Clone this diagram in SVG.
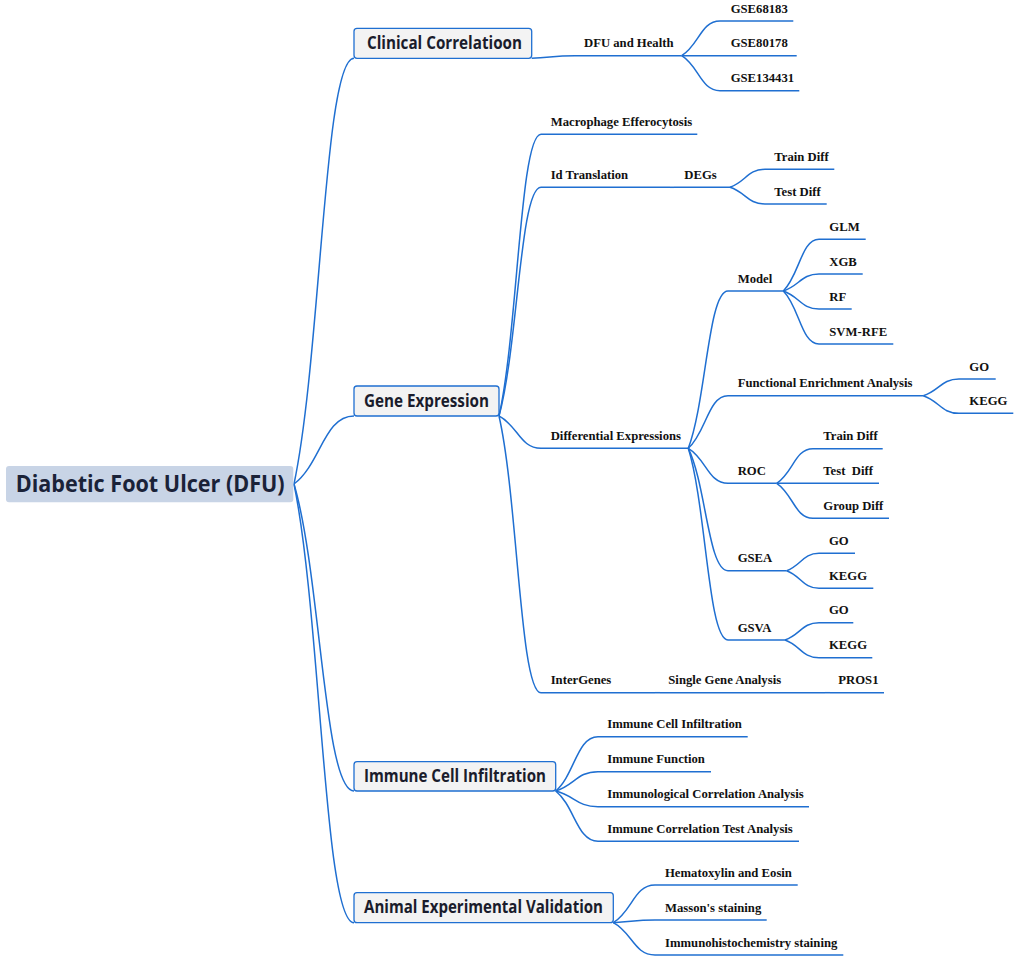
<svg xmlns="http://www.w3.org/2000/svg" width="1020" height="962" viewBox="0 0 1020 962">
<style>
.c{fill:none;stroke:#1f6fd1;stroke-width:1.5}
.u{stroke:#1f6fd1;stroke-width:1.5}
.t{font-family:"Liberation Serif","Times New Roman",serif;font-weight:bold;font-size:12.7px;fill:#111}
.b{fill:#f3f3f3;stroke:#1f6fd1;stroke-width:1.3}
.bt{font-family:"Open Sans","Noto Sans",sans-serif;font-weight:700;font-size:17px;fill:#1a1c2c}
.rt{font-family:"Open Sans","Noto Sans",sans-serif;font-weight:700;font-size:22.5px;fill:#1a2238}
</style>
<rect width="1020" height="962" fill="#ffffff"/>
<g id="connectors">
<path class="c" d="M294 484C321 356.3 324 58.3 354 58.3"/>
<path class="c" d="M294 484C321 463.6 324 416 354 416"/>
<path class="c" d="M294 484C321 576.1 324 791 354 791"/>
<path class="c" d="M294 484C321 615.6 324 922.7 354 922.7"/>
<path class="c" d="M531.7 58.3C551.2 57.5 553.3 55.7 575 55.7"/>
<path class="c" d="M681.7 55.7C698.9 45.3 700.9 21 720 21"/>
<path class="c" d="M681.7 55.7H720"/>
<path class="c" d="M681.7 55.7C698.9 66.2 700.9 90.7 720 90.7"/>
<path class="c" d="M499 416C517.9 331.5 520 134.3 541 134.3"/>
<path class="c" d="M499 416C517.9 347.4 520 187.3 541 187.3"/>
<path class="c" d="M499 416C517.9 425.7 520 448.3 541 448.3"/>
<path class="c" d="M499 416C517.9 499 520 692.7 541 692.7"/>
<path class="c" d="M670 187.3H674"/>
<path class="c" d="M730 187.3C745.8 181.9 747.5 169.3 765 169.3"/>
<path class="c" d="M730 187.3C745.8 192.3 747.5 204 765 204"/>
<path class="c" d="M688.3 448.3C706.2 401.1 708.2 291 728 291"/>
<path class="c" d="M688.3 448.3C706.2 432.5 708.2 395.7 728 395.7"/>
<path class="c" d="M688.3 448.3C706.2 458.8 708.2 483.3 728 483.3"/>
<path class="c" d="M688.3 448.3C706.2 485 708.2 570.7 728 570.7"/>
<path class="c" d="M688.3 448.3C706.2 505.8 708.2 640 728 640"/>
<path class="c" d="M783.3 291C799.4 275.5 801.2 239.3 819 239.3"/>
<path class="c" d="M783.3 291C799.4 285.9 801.2 274 819 274"/>
<path class="c" d="M783.3 291C799.4 296.4 801.2 309 819 309"/>
<path class="c" d="M783.3 291C799.4 306.9 801.2 344 819 344"/>
<path class="c" d="M923.3 395.7C939.4 390.7 941.2 379 959 379"/>
<path class="c" d="M923.3 395.7C939.4 401 941.2 413.3 959 413.3"/>
<path class="c" d="M776.7 483.3C793 472.9 794.9 448.7 813 448.7"/>
<path class="c" d="M776.7 483.3H813"/>
<path class="c" d="M776.7 483.3C793 493.8 794.9 518.3 813 518.3"/>
<path class="c" d="M786.7 570.7C801.2 565.5 802.9 553.3 819 553.3"/>
<path class="c" d="M786.7 570.7C801.2 576 802.9 588.3 819 588.3"/>
<path class="c" d="M785 640C800.3 634.8 802 622.7 819 622.7"/>
<path class="c" d="M785 640C800.3 645.3 802 657.7 819 657.7"/>
<path class="c" d="M655 692.7H660"/>
<path class="c" d="M825 692.7H830"/>
<path class="c" d="M555.7 791C574.7 774.7 576.9 736.7 598 736.7"/>
<path class="c" d="M555.7 791C574.7 785.2 576.9 771.7 598 771.7"/>
<path class="c" d="M555.7 791C574.7 795.7 576.9 806.7 598 806.7"/>
<path class="c" d="M555.7 791C574.7 806.1 576.9 841.3 598 841.3"/>
<path class="c" d="M613.3 922.7C632.1 911.4 634.2 885 655 885"/>
<path class="c" d="M613.3 922.7C632.1 921.9 634.2 920 655 920"/>
<path class="c" d="M613.3 922.7C632.1 932.4 634.2 955 655 955"/>
</g>
<g id="root"><rect x="6" y="466" width="287.3" height="36.3" rx="3" fill="#c8d4e6"/><text class="rt" x="15.7" y="491.7" textLength="269" lengthAdjust="spacingAndGlyphs">Diabetic Foot Ulcer (DFU)</text></g>
<g id="clinical"><rect class="b" x="354" y="28.3" width="177.7" height="30" rx="3"/><text class="bt" x="367" y="49.3" textLength="155" lengthAdjust="spacingAndGlyphs">Clinical Correlatioon</text></g>
<g id="gene"><rect class="b" x="354" y="386" width="145" height="30" rx="3"/><text class="bt" x="364" y="406.7" textLength="125" lengthAdjust="spacingAndGlyphs">Gene Expression</text></g>
<g id="immune"><rect class="b" x="354" y="761.7" width="201.7" height="29.3" rx="3"/><text class="bt" x="364" y="782" textLength="182" lengthAdjust="spacingAndGlyphs">Immune Cell Infiltration</text></g>
<g id="animal"><rect class="b" x="354" y="892.7" width="259.3" height="30" rx="3"/><text class="bt" x="364" y="913" textLength="239" lengthAdjust="spacingAndGlyphs">Animal Experimental Validation</text></g>
<g id="dfu-health"><line class="u" x1="575" y1="55.7" x2="681.7" y2="55.7"/><text class="t" x="584" y="47.2">DFU and Health</text></g>
<g id="gse68183"><line class="u" x1="720" y1="21" x2="793.3" y2="21"/><text class="t" x="730.7" y="12.5">GSE68183</text></g>
<g id="gse80178"><line class="u" x1="720" y1="55.7" x2="796.7" y2="55.7"/><text class="t" x="730.7" y="47.2">GSE80178</text></g>
<g id="gse134431"><line class="u" x1="720" y1="90.7" x2="799.3" y2="90.7"/><text class="t" x="730.7" y="82.2">GSE134431</text></g>
<g id="macrophage"><line class="u" x1="541" y1="134.3" x2="697.3" y2="134.3"/><text class="t" x="550.7" y="125.8">Macrophage Efferocytosis</text></g>
<g id="id-translation"><line class="u" x1="541" y1="187.3" x2="670" y2="187.3"/><text class="t" x="550.7" y="178.8">Id Translation</text></g>
<g id="degs"><line class="u" x1="674" y1="187.3" x2="730" y2="187.3"/><text class="t" x="684.3" y="178.8">DEGs</text></g>
<g id="train-diff-1"><line class="u" x1="765" y1="169.3" x2="834.3" y2="169.3"/><text class="t" x="774.3" y="160.8">Train Diff</text></g>
<g id="test-diff-1"><line class="u" x1="765" y1="204" x2="826.7" y2="204"/><text class="t" x="774.3" y="195.5">Test Diff</text></g>
<g id="differential"><line class="u" x1="541" y1="448.3" x2="688.3" y2="448.3"/><text class="t" x="550.7" y="439.8">Differential Expressions</text></g>
<g id="model"><line class="u" x1="728" y1="291" x2="783.3" y2="291"/><text class="t" x="737.7" y="282.5">Model</text></g>
<g id="glm"><line class="u" x1="819" y1="239.3" x2="865.7" y2="239.3"/><text class="t" x="829.3" y="230.8">GLM</text></g>
<g id="xgb"><line class="u" x1="819" y1="274" x2="862.7" y2="274"/><text class="t" x="829.3" y="265.5">XGB</text></g>
<g id="rf"><line class="u" x1="819" y1="309" x2="851.7" y2="309"/><text class="t" x="829.3" y="300.5">RF</text></g>
<g id="svm-rfe"><line class="u" x1="819" y1="344" x2="893.3" y2="344"/><text class="t" x="829.3" y="335.5">SVM-RFE</text></g>
<g id="fea"><line class="u" x1="728" y1="395.7" x2="923.3" y2="395.7"/><text class="t" x="737.7" y="387.2">Functional Enrichment Analysis</text></g>
<g id="fea-go"><line class="u" x1="959" y1="379" x2="995.7" y2="379"/><text class="t" x="969.3" y="370.5">GO</text></g>
<g id="fea-kegg"><line class="u" x1="959" y1="413.3" x2="1013.3" y2="413.3"/><text class="t" x="969.3" y="404.8">KEGG</text></g>
<g id="roc"><line class="u" x1="728" y1="483.3" x2="776.7" y2="483.3"/><text class="t" x="737.7" y="474.8">ROC</text></g>
<g id="train-diff-2"><line class="u" x1="813" y1="448.7" x2="882.7" y2="448.7"/><text class="t" x="823.3" y="440.2">Train Diff</text></g>
<g id="test-diff-2"><line class="u" x1="813" y1="483.3" x2="879" y2="483.3"/><text class="t" x="823.3" y="474.8" xml:space="preserve">Test  Diff</text></g>
<g id="group-diff"><line class="u" x1="813" y1="518.3" x2="889" y2="518.3"/><text class="t" x="823.3" y="509.8">Group Diff</text></g>
<g id="gsea"><line class="u" x1="728" y1="570.7" x2="786.7" y2="570.7"/><text class="t" x="737.7" y="562.2">GSEA</text></g>
<g id="gsea-go"><line class="u" x1="819" y1="553.3" x2="855" y2="553.3"/><text class="t" x="829" y="544.8">GO</text></g>
<g id="gsea-kegg"><line class="u" x1="819" y1="588.3" x2="873.3" y2="588.3"/><text class="t" x="829" y="579.8">KEGG</text></g>
<g id="gsva"><line class="u" x1="728" y1="640" x2="785" y2="640"/><text class="t" x="737.7" y="631.5">GSVA</text></g>
<g id="gsva-go"><line class="u" x1="819" y1="622.7" x2="853.3" y2="622.7"/><text class="t" x="829" y="614.2">GO</text></g>
<g id="gsva-kegg"><line class="u" x1="819" y1="657.7" x2="872.3" y2="657.7"/><text class="t" x="829" y="649.2">KEGG</text></g>
<g id="intergenes"><line class="u" x1="541" y1="692.7" x2="655" y2="692.7"/><text class="t" x="550.7" y="684.2">InterGenes</text></g>
<g id="single-gene"><line class="u" x1="660" y1="692.7" x2="825" y2="692.7"/><text class="t" x="668.3" y="684.2">Single Gene Analysis</text></g>
<g id="pros1"><line class="u" x1="830" y1="692.7" x2="884" y2="692.7"/><text class="t" x="838.3" y="684.2">PROS1</text></g>
<g id="ici-sub"><line class="u" x1="598" y1="736.7" x2="747.7" y2="736.7"/><text class="t" x="607.3" y="728.2">Immune Cell Infiltration</text></g>
<g id="immune-function"><line class="u" x1="598" y1="771.7" x2="711" y2="771.7"/><text class="t" x="607.3" y="763.2">Immune Function</text></g>
<g id="immuno-corr"><line class="u" x1="598" y1="806.7" x2="809" y2="806.7"/><text class="t" x="607.3" y="798.2">Immunological Correlation Analysis</text></g>
<g id="immune-corr-test"><line class="u" x1="598" y1="841.3" x2="799" y2="841.3"/><text class="t" x="607.3" y="832.8">Immune Correlation Test Analysis</text></g>
<g id="he"><line class="u" x1="655" y1="885" x2="797.7" y2="885"/><text class="t" x="665" y="876.5">Hematoxylin and Eosin</text></g>
<g id="masson"><line class="u" x1="655" y1="920" x2="766.7" y2="920"/><text class="t" x="665" y="911.5">Masson's staining</text></g>
<g id="ihc"><line class="u" x1="655" y1="955" x2="843.3" y2="955"/><text class="t" x="665" y="946.5">Immunohistochemistry staining</text></g>
</svg>
